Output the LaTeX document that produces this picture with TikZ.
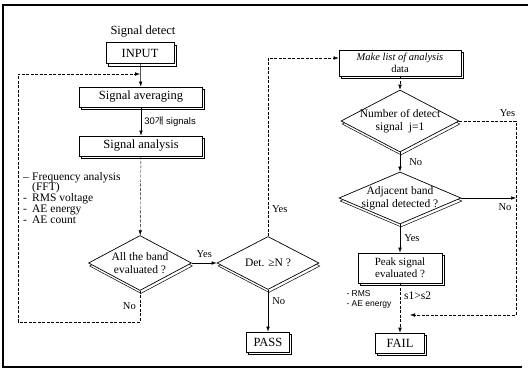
\documentclass[tikz,border=0pt]{standalone}
\usepackage{fontspec}
\setmainfont{Liberation Serif}
\newfontfamily\sansf{Liberation Sans}
\newfontfamily\krfont{Noto Sans CJK KR}
\usepackage{tikz}
\usetikzlibrary{arrows.meta, positioning, shapes.geometric, shadows}

\newcommand{\itemdash}[1]{\makebox[9pt][l]{#1}}

\begin{document}
\begin{tikzpicture}[
            x=1pt, y=-1pt,
            box/.style={draw, fill=white, line width=0.7pt, inner sep=1pt, align=center,
                font=\fontsize{12.5}{13}\selectfont,
                copy shadow={shadow xshift=2pt, shadow yshift=-2.5pt, draw=black, fill=white, opacity=1, line width=0.5pt}},
            dia/.style={diamond, draw, fill=white, line width=0.7pt, aspect=2, inner sep=-8pt, align=center,
                font=\fontsize{11.5}{12.5}\selectfont,
                copy shadow={shadow xshift=1pt, shadow yshift=-3pt, draw=black, fill=white, opacity=1, line width=0.5pt}},
            flow/.style={-{Latex[length=5pt, width=3.5pt]}, line width=0.5pt},
            faint/.style={line width=0.4pt, dash pattern=on 3pt off 1.5pt},
            lbl/.style={font=\fontsize{10.5}{11}\selectfont, inner sep=1pt},
            note/.style={font=\sansf\fontsize{8.5}{10}\selectfont, inner sep=1pt}
        ]

        \useasboundingbox (0,0) rectangle (528,370);
        \draw[line width=1.1pt] (528,5) -- (3,5) -- (3,367) -- (522,367);

        % Nodes (manual layout to match figure)
        \node[font=\fontsize{12.5}{13}\selectfont] (title) at (143,32) {Signal detect};
        \node[box, minimum width=68pt, minimum height=21pt] (input) at (140,53) {INPUT};
        \node[box, minimum width=123pt, minimum height=20pt] (avg) at (141,97) {Signal averaging};
        \node[box, minimum width=123pt, minimum height=20pt] (ana) at (141,146) {Signal analysis};
        \node[lbl, font=\fontsize{11.5}{10.8}\selectfont, align=left, anchor=north west] (items) at (22,171)
            {\itemdash{--}Frequency analysis\\ \itemdash{}(FFT)\\ \itemdash{-}RMS voltage\\
             \itemdash{-}AE energy\\ \itemdash{-}AE count};

        \node[dia, minimum width=103pt, minimum height=55pt] (band) at (140,263) {All the band\\evaluated ?};
        \node[dia, minimum width=102pt, minimum height=53pt] (det) at (268,263) {Det. ≥N ?};
        \node[box, minimum width=43pt, minimum height=20pt] (pass) at (268,342) {PASS};

        \node[box, minimum width=122pt, minimum height=26pt, font=\fontsize{10.5}{11.5}\selectfont] (make) at (400,63)
            {\textit{Make list of analysis}\\data};
        \node[dia, minimum width=118pt, minimum height=62pt] (num) at (400,121) {Number of detect\\signal\ \ j=1};
        \node[dia, minimum width=122pt, minimum height=52pt] (adj) at (400,198) {Adjacent band\\signal detected ?};
        \node[box, minimum width=84pt, minimum height=30pt, font=\fontsize{11}{12}\selectfont] (peak) at (400,268)
            {Peak signal\\evaluated ?};
        \node[box, minimum width=49pt, minimum height=20pt] (fail) at (400,343) {FAIL};
        \node[note, align=left] (meas) at (369,299) {- RMS\\- AE energy};

        \coordinate (bandlow) at (140,322);
        \coordinate (lowleft) at (18,322);
        \coordinate (upleft) at (18,74);
        \coordinate (avgin) at (140,74);
        \coordinate (detup) at (268,58);
        \coordinate (numout) at (516,121);
        \coordinate (adjout) at (516,198);
        \coordinate (lowright) at (516,315);
        \coordinate (failin) at (410,315);

        % Edges
        \draw[flow] (input) -- (avg);
        \draw[flow] (avg) -- node[note, font=\sansf\fontsize{9.5}{10}\selectfont, right=2pt] (cnt) {30{\krfont 개} signals} (ana);
        \draw[flow, faint] (ana) -- (band);
        \draw[flow, faint] (band.south) -- node[lbl, left=3pt] (no1) {No} (bandlow)
            -- (lowleft) -- (upleft) -- (avgin);
        \draw[flow] (band) -- node[lbl, above=4pt] (yes1) {Yes} (det);
        \draw[flow] (det) -- node[lbl, right=3pt, pos=0.27] (no2) {No} (pass);
        \draw[flow, faint] (det) -- node[lbl, right=3pt, pos=0.15] (yes2) {Yes} (detup)
            -- (detup -| make.west);

        \draw[flow, faint] (make) -- (num);
        \draw[flow] (num) -- node[lbl, right=8pt] (no3) {No} (adj);
        \draw[flow, faint] (num.east) -- node[lbl, above=3pt, pos=0.85] (yes3) {Yes} (numout)
            -- (lowright) -- (failin);
        \draw[flow] (adj.east) -- node[lbl, below=4pt, pos=0.8] (no4) {No} (adjout);
        \draw[flow] (adj) -- node[lbl, right=3pt] (yes4) {Yes} (peak);
        \draw[flow, faint] (peak) -- node[lbl, font=\fontsize{11.5}{12}\selectfont, right=3pt, pos=0.25] (cmp) {s1>s2} (fail);

    \end{tikzpicture}
\end{document}
